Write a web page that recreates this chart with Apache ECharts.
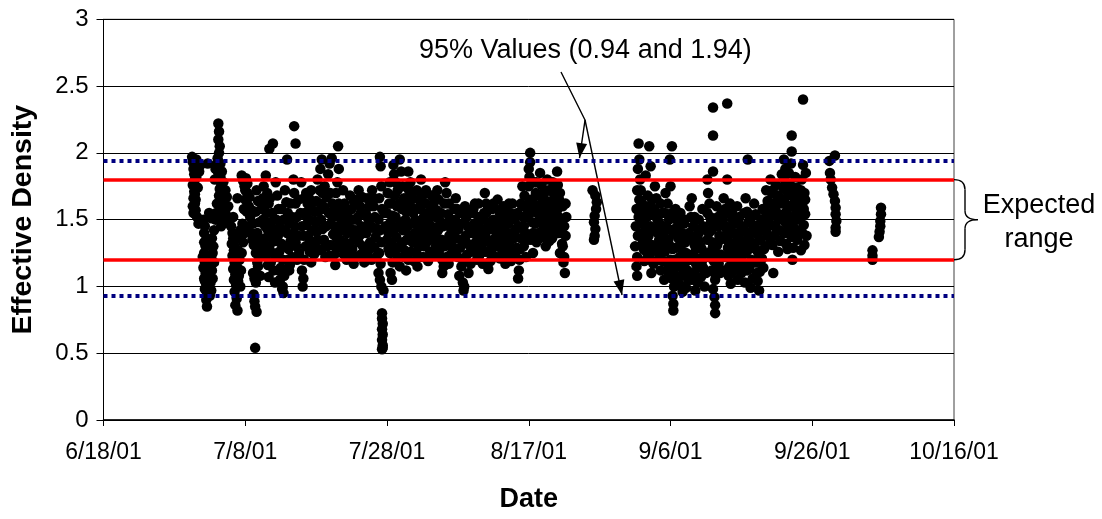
<!DOCTYPE html>
<html><head><meta charset="utf-8">
<script src="https://cdn.jsdelivr.net/npm/echarts@6/dist/echarts.min.js"></script>
<style>html,body{margin:0;padding:0;background:#fff}#c{width:1102px;height:519px}</style>
</head><body><div id="c"></div>
<script>
// x = days since 6/18/01 (fractional), y = effective density
const startDateUTC = Date.UTC(2001, 5, 18);
const xMinDay = 0, xMaxDay = 120, xStepDays = 20;
const yMin = 0, yMax = 3, yStep = 0.5;
const expectedRange = [1.2, 1.8];
const limits95 = [0.93, 1.94];
const annotationText = '95% Values (0.94 and 1.94)';
const braceText = ['Expected', 'range'];

const earlyJuly = [
[12.5,1.97],[12.6,1.93],[12.7,1.88],[12.8,1.84],[12.9,1.80],[12.6,1.76],[12.8,1.71],[12.7,1.66],[12.9,1.62],[12.6,1.60],[13.0,1.57],[13.2,1.52],[13.4,1.47],[13.1,1.95],[13.3,1.90],[13.5,1.86],[13.7,1.91],
[14.1,1.50],[14.3,1.45],[14.2,1.40],[14.5,1.35],[14.4,1.30],[14.2,1.25],[14.0,1.22],[14.3,1.18],[14.1,1.14],[14.4,1.10],[14.2,1.06],[14.5,1.02],[14.3,0.98],[14.6,0.95],[14.5,0.90],[14.6,0.85],[14.8,1.20],[14.9,1.15],[15.0,1.08],[15.1,1.03],[15.2,0.97],[15.0,0.93],[15.3,1.12],[15.4,1.25],[15.5,1.30],[15.3,1.36],[15.6,1.42],[15.2,1.51],[14.7,1.92],[14.9,1.55],
[16.2,2.22],[16.3,2.16],[16.2,2.10],[16.4,2.05],[16.3,2.00],[16.1,1.96],[16.0,1.92],[15.8,1.88],[16.2,1.85],[16.5,1.82],[15.7,1.80],[16.6,1.77],[16.4,1.73],[16.7,1.70],[16.9,1.66],[17.1,1.62],[16.8,1.58],[17.2,1.55],[17.0,1.51],[17.3,1.48],[16.6,1.45],[17.4,1.67],[17.6,1.60],[15.9,1.55],[16.0,1.62],[16.3,1.68],
[18.2,1.40],[18.3,1.36],[18.1,1.32],[18.4,1.27],[18.2,1.23],[18.5,1.18],[18.3,1.13],[18.6,1.09],[18.4,1.05],[18.7,1.01],[18.5,0.96],[18.8,0.91],[18.6,0.86],[18.9,0.82],[19.2,1.20],[19.4,1.12],[19.0,1.04],
[18.9,1.66],[19.5,1.83],[19.7,1.79],[19.9,1.75],[20.1,1.81],[20.3,1.70],[20.0,1.65],[20.5,1.60],[20.2,1.56],[20.7,1.52],[19.6,1.47],[20.4,1.45],[19.3,1.42],[20.8,1.40],[21.0,1.35],[21.2,1.31],[19.1,1.36],[19.0,1.27],
[21.1,1.10],[21.3,1.06],[21.5,1.03],[21.2,0.94],[21.3,0.89],[21.4,0.85],[21.6,0.81],[21.4,0.54],[21.8,1.15],[22.0,1.22],
[21.6,1.72],[21.8,1.64],[21.5,1.56],[22.0,1.48],[21.7,1.40],[22.2,1.32],[21.9,1.25]
];

const midJuly = [
[22.6,1.75],[22.9,1.83],[23.1,1.70],[23.3,1.62],[23.0,1.55],[23.5,1.48],[23.2,1.42],[23.7,1.37],[23.4,1.30],[23.9,1.25],[23.6,1.18],[24.0,1.12],[23.3,1.07],[24.2,1.03],[23.4,2.03],[23.9,2.07],[24.3,1.78],[24.5,1.68],[24.7,1.58],[24.4,1.50],[24.9,1.44],[24.6,1.38],[25.1,1.32],[24.8,1.26],[25.3,1.20],[25.0,1.14],[25.5,1.08],[25.2,0.98],[25.4,0.95],[25.3,1.00],[25.9,1.95],[25.6,1.72],[25.8,1.63],[26.0,1.55],[26.2,1.47],[25.9,1.40],[26.4,1.34],[26.1,1.28],[26.6,1.22],[26.3,1.16],[26.9,2.20],[27.1,2.07],[26.8,1.80],[26.9,1.70],[27.1,1.62],[27.3,1.52],[27.0,1.45],[27.5,1.38],[27.2,1.30],[27.6,1.25],[22.7,1.60],[22.5,1.50],[22.8,1.45],[22.4,1.35],[22.6,1.28],
[27.9,1.78],[28.1,1.00],[28.2,1.06],[28.0,1.12],[28.3,1.20],[28.5,1.30],[28.2,1.38],[28.6,1.46],[28.4,1.55],[28.8,1.62],[28.6,1.70],[29.0,1.66],[29.2,1.58],[29.0,1.50],[29.4,1.42],[29.1,1.34],[29.5,1.27],[29.3,1.18],[29.7,1.24],[29.9,1.33],[30.1,1.41],[29.8,1.49],[30.3,1.56],[30.0,1.64],[30.5,1.72],[30.2,1.80],[30.6,1.88],[30.8,1.95],[30.7,1.50],[30.9,1.43],[31.1,1.35],[30.8,1.28],[31.3,1.22],[31.0,1.60],[31.5,1.67],[31.2,1.75],[31.7,1.84],[31.9,1.92],[32.2,1.96],[31.8,1.55],[32.1,1.47],[32.4,1.39],[32.0,1.31],[32.6,1.24],[32.7,1.16],[32.3,1.62],[32.8,1.70],[33.0,1.78],[33.1,2.05],[33.2,1.88],[33.3,1.52],[33.0,1.45],[33.4,1.35],[32.9,1.29]
];

const lateJuly = [
[33.8,1.72],[34.0,1.62],[34.2,1.55],[33.9,1.48],[34.4,1.40],[34.1,1.33],[34.6,1.26],[34.3,1.20],[34.8,1.68],[35.0,1.58],[35.2,1.50],[34.9,1.43],[35.4,1.36],[35.1,1.28],[35.6,1.22],[35.3,1.17],[35.8,1.65],[36.0,1.72],[36.2,1.60],[35.9,1.52],[36.4,1.45],[36.1,1.38],[36.6,1.30],[36.3,1.24],[36.8,1.18],[37.0,1.55],[37.2,1.66],[37.4,1.47],[37.1,1.40],[37.6,1.33],[37.3,1.26],[37.8,1.20],[37.9,1.72],[38.1,1.60],[38.3,1.52],[38.0,1.44],[38.4,1.37],[38.2,1.29],[38.5,1.22],
[39.0,1.97],[39.1,1.90],[39.2,1.75],[38.9,1.66],[39.3,1.58],[38.8,1.50],[39.0,1.42],[39.2,1.33],[38.9,1.25],[39.1,1.17],[38.8,1.10],[39.0,1.05],[39.2,1.00],[39.5,0.97],[39.3,0.80],[39.3,0.76],[39.4,0.72],[39.3,0.68],[39.4,0.64],[39.3,0.60],[39.4,0.56],[39.3,0.53],[39.4,0.54],
[40.1,1.70],[40.3,1.62],[40.0,1.55],[40.5,1.48],[40.2,1.40],[40.6,1.32],[40.4,1.25],[40.8,1.18],[40.5,1.10],[40.9,1.91],[41.0,1.84],[41.2,1.78],[41.1,1.68],[41.4,1.60],[41.2,1.52],[41.6,1.45],[41.3,1.37],[41.7,1.30],[41.5,1.22],[41.8,1.15],[41.8,1.95],[42.0,1.86],[42.2,1.75],[42.4,1.66],[42.1,1.58],[42.6,1.50],[42.3,1.42],[42.8,1.35],[42.5,1.27],[43.0,1.20],[42.7,1.12],[43.1,1.72],[42.9,1.63],[40.7,1.05]
];

const julyMore = [
[12.7,1.55],[12.9,1.69],[13.1,1.82],[13.3,1.74],[13.0,1.65],[14.2,1.33],[14.4,1.20],[14.6,1.12],[14.3,1.04],[14.8,1.00],[15.0,1.17],[15.2,1.22],[15.4,1.06],[15.6,1.18],[15.8,1.50],[16.5,1.92],[16.7,1.86],[16.9,1.78],[17.2,1.72],[17.0,1.58],[17.5,1.52],[18.0,1.45],[18.3,1.52],[18.5,1.30],[18.7,1.21],[18.9,1.14],[19.1,1.08],[19.3,1.00],[19.5,1.25],[19.7,1.33],[19.9,1.40],[19.8,1.58],[20.0,1.72],[20.3,1.77],[20.6,1.67],[20.9,1.57],[21.1,1.47],[21.3,1.38],[21.5,1.25],[21.7,1.18],[22.1,1.08],[22.3,1.58],[22.5,1.66],[22.8,1.36],[23.0,1.24],[23.2,1.16],[23.5,1.66],[23.8,1.55],[24.1,1.43],[24.3,1.34],[24.5,1.22],[24.7,1.12],[24.9,1.05],[25.1,1.58],[25.4,1.50],[25.6,1.42],[25.8,1.30],[26.0,1.20],[26.2,1.12],[26.4,1.62],[26.6,1.52],[26.9,1.40],[27.1,1.33],[27.3,1.20],[27.5,1.65],[27.8,1.55],[28.0,1.45],[28.3,1.66],[28.7,1.52],[28.9,1.38],[29.1,1.26],[29.3,1.72],[29.6,1.63],[29.8,1.56],[30.0,1.48],[30.2,1.35],[30.4,1.27],[30.6,1.62],[30.9,1.70],[31.2,1.58],[31.4,1.45],[31.6,1.30],[31.8,1.23],[32.0,1.70],[32.3,1.52],[32.5,1.56],[32.7,1.44],[32.9,1.36],[33.2,1.62],[33.5,1.58],[33.6,1.42],[33.7,1.30],[33.9,1.24],[34.2,1.45],[34.5,1.52],[34.7,1.32],[35.0,1.25],[35.3,1.64],[35.5,1.42],[35.7,1.50],[36.0,1.33],[36.3,1.55],[36.5,1.67],[36.7,1.40],[36.9,1.25],[37.2,1.52],[37.5,1.60],[37.7,1.45],[38.0,1.30],[38.2,1.66],[38.6,1.43],[39.6,1.55],[39.8,1.45],[40.0,1.35],[40.2,1.28],[40.4,1.78],[40.6,1.62],[40.8,1.53],[41.0,1.42],[41.3,1.28],[41.5,1.72],[41.7,1.62],[42.0,1.48],[42.2,1.33],[42.4,1.22],[42.7,1.56],[42.9,1.45]
];

const earlyAug = [
[43.0,1.86],[43.3,1.78],[43.5,1.70],[43.2,1.62],[43.7,1.55],[43.4,1.47],[43.9,1.40],[43.6,1.33],[44.1,1.26],[43.8,1.19],[44.3,1.15],[44.0,1.50],[44.5,1.65],[44.2,1.72],[44.7,1.58],[44.4,1.45],[44.9,1.37],[44.6,1.30],[45.1,1.22],[44.8,1.80],[45.2,1.52],[45.0,1.68],
[45.5,1.62],[45.7,1.55],[45.4,1.47],[45.9,1.40],[45.6,1.33],[46.1,1.26],[45.8,1.19],[46.3,1.68],[46.5,1.60],[46.2,1.52],[46.7,1.44],[46.4,1.37],[46.9,1.30],[46.6,1.23],[47.1,1.72],[47.3,1.65],[47.0,1.57],[47.5,1.49],[47.2,1.42],[47.7,1.35],[47.4,1.28],[47.8,1.20],[47.8,1.10],[48.0,1.15],[48.2,1.78],[48.4,1.70],[48.1,1.62],[48.6,1.54],[48.3,1.46],[48.8,1.38],[48.5,1.31],[49.0,1.24],[48.7,1.17],[49.2,1.48],[49.4,1.40],[49.1,1.33],
[49.7,1.66],[49.9,1.58],[49.6,1.50],[50.1,1.43],[49.8,1.36],[50.3,1.29],[50.0,1.22],[50.5,1.15],[50.2,1.08],[50.7,1.03],[50.8,0.97],[50.9,1.00],[51.0,1.60],[51.2,1.52],[51.4,1.45],[51.1,1.38],[51.6,1.31],[51.3,1.24],[51.8,1.17],[51.5,1.10]
];

const midAug = [
[52.1,1.55],[52.3,1.47],[52.0,1.40],[52.5,1.33],[52.2,1.26],[52.7,1.20],[52.4,1.62],[52.9,1.52],[53.1,1.44],[52.8,1.37],[53.3,1.30],[53.0,1.23],[53.5,1.17],[53.8,1.70],[54.0,1.62],[53.7,1.55],[54.2,1.48],[53.9,1.40],[54.4,1.33],[54.1,1.26],[54.6,1.19],[54.3,1.13],[54.8,1.58],[55.0,1.50],[54.7,1.43],[55.2,1.36],[54.9,1.29],[55.4,1.22],[55.6,1.65],[55.8,1.57],[55.5,1.49],[56.0,1.42],[55.7,1.35],[56.2,1.28],[55.9,1.21],[56.4,1.60],[56.6,1.52],[56.3,1.45],[56.8,1.38],[56.5,1.31],[57.0,1.24],[56.7,1.17],[57.2,1.62],[57.4,1.55],[57.1,1.47],[57.6,1.40],[57.3,1.33],[57.8,1.26],[57.5,1.19],[58.0,1.50],[58.2,1.43],[57.9,1.36],[58.3,1.29],
[58.5,1.06],[58.6,1.12],[58.7,1.20],[58.8,1.28],[58.9,1.36],[59.0,1.44],[59.2,1.52],[59.1,1.60],[59.4,1.68],[59.3,1.30],[59.6,1.22],[59.5,1.40],[59.8,1.58],[60.0,1.75],[60.1,1.82],[60.0,1.88],[60.2,1.93],[60.2,2.00],[60.4,1.65],[60.5,1.48],[60.3,1.35],[60.6,1.25],
[60.8,1.78],[61.0,1.70],[60.7,1.62],[61.2,1.55],[60.9,1.47],[61.4,1.40],[61.1,1.33],[61.6,1.85],[61.8,1.76],[61.5,1.68],[62.0,1.60],[61.7,1.52],[62.2,1.45],[61.9,1.37],[62.4,1.30],[62.6,1.80],[62.8,1.72],[62.5,1.64],[63.0,1.57],[62.7,1.49],[63.2,1.42],[62.9,1.34],[63.4,1.78],[63.6,1.68],[63.3,1.60],[63.8,1.52],[63.5,1.45],[64.0,1.86],[64.1,1.76],[64.3,1.65],[64.0,1.57],[64.5,1.48],[64.2,1.40],[64.7,1.32],[64.4,1.25],[64.9,1.18],[65.1,1.10],[65.0,1.45],[65.2,1.38],[64.8,1.60],[65.3,1.52]
];

const augMore = [
[43.2,1.38],[43.4,1.26],[43.6,1.66],[43.9,1.58],[44.1,1.48],[44.3,1.36],[44.6,1.22],[44.8,1.62],[45.0,1.42],[45.3,1.30],[45.5,1.72],[45.8,1.50],[46.0,1.35],[46.2,1.45],[46.4,1.60],[46.7,1.65],[46.9,1.52],[47.1,1.36],[47.3,1.25],[47.6,1.55],[47.9,1.45],[48.1,1.30],[48.4,1.22],[48.7,1.62],[48.9,1.50],[49.1,1.42],[49.3,1.26],[49.5,1.58],[49.8,1.28],[50.0,1.45],[50.3,1.55],[50.5,1.35],[50.7,1.20],[50.9,1.48],[51.2,1.33],[51.5,1.55],[51.7,1.42],[51.9,1.28],[52.2,1.58],[52.4,1.40],[52.6,1.28],[52.9,1.62],[53.1,1.34],[53.3,1.50],[53.5,1.42],[53.7,1.26],[54.0,1.55],[54.2,1.35],[54.5,1.45],[54.7,1.25],[55.0,1.62],[55.2,1.45],[55.4,1.30],[55.6,1.40],[55.9,1.55],[56.1,1.35],[56.3,1.25],[56.6,1.45],[56.8,1.58],[57.0,1.40],[57.3,1.52],[57.5,1.28],[57.7,1.62],[58.0,1.40],[58.2,1.22],[58.4,1.55],[58.7,1.45],[58.9,1.62],[59.1,1.75],[59.3,1.45],[59.6,1.52],[59.8,1.35],[60.0,1.62],[60.2,1.55],[60.4,1.78],[60.6,1.40],[60.9,1.58],[61.1,1.78],[61.3,1.48],[61.5,1.36],[61.8,1.62],[62.0,1.42],[62.2,1.70],[62.4,1.55],[62.7,1.38],[62.9,1.62],[63.1,1.50],[63.3,1.36],[63.5,1.72],[63.8,1.62],[64.0,1.42],[64.2,1.52],[64.4,1.70],[64.6,1.40],[64.8,1.30],[65.0,1.22],[65.2,1.62]
];

const lateAug = [
[69.0,1.72],[69.4,1.68],[69.6,1.63],[69.5,1.58],[69.3,1.53],[69.2,1.48],[69.4,1.43],[69.3,1.38],[69.2,1.35],
[75.5,2.07],[77.0,2.05],[75.6,1.95],[75.4,1.88],[75.7,1.80],[75.3,1.72],[75.6,1.65],[75.2,1.58],[75.5,1.52],[75.1,1.45],[75.4,1.38],[75.0,1.30],[75.3,1.22],[75.2,1.15],[75.3,1.08],[76.0,1.62],[76.2,1.55],[75.9,1.47],[76.4,1.40],[76.1,1.33],[76.6,1.26],[76.3,1.19],[76.8,1.68],[77.0,1.60],[76.7,1.52],[77.2,1.45],[76.9,1.38],[77.4,1.31],[77.1,1.24],[77.6,1.17],[77.3,1.10],[77.8,1.75],[78.0,1.66],[77.7,1.58],[78.2,1.50],[77.9,1.42],[78.4,1.35],[78.1,1.28],[78.3,1.20],[76.5,1.83],[77.2,1.90]
];

const earlySept = [
[78.6,1.62],[78.8,1.55],[78.5,1.47],[79.0,1.40],[78.7,1.33],[79.2,1.26],[78.9,1.19],[79.4,1.12],[79.1,1.05],[79.3,1.70],[79.6,1.62],[79.9,1.95],[80.2,2.05],[80.0,1.75],[79.8,1.50],[80.1,1.42],[79.7,1.35],[80.3,1.28],[80.0,1.20],[80.4,1.13],[80.2,1.06],[80.5,1.00],[80.3,0.93],[80.4,0.87],[80.4,0.82],[80.7,1.58],[80.9,1.50],[80.6,1.43],[81.1,1.36],[80.8,1.29],[81.3,1.22],[81.0,1.15],[81.5,1.08],[81.2,1.02],[81.7,0.96],[81.4,1.55],[81.9,1.47],[81.6,1.40],[82.1,1.33],[81.8,1.26],[82.3,1.19],[82.0,1.12],[82.5,1.05],[82.2,0.99],[82.7,1.60],[83.0,1.66],[82.9,1.52],[83.2,1.45],[82.8,1.38],[83.4,1.31],[83.1,1.24],[83.6,1.17],[83.3,1.10],[83.8,1.03],[83.5,0.97],[84.0,1.50],[84.2,1.42],[83.9,1.35],[84.4,1.28],[84.1,1.21],[84.6,1.14],[84.3,1.07],[84.8,1.00],[84.5,1.58],
[86.0,2.34],[88.0,2.37],[86.0,2.13],[86.0,1.86],[85.2,1.80],[85.3,1.70],[85.5,1.62],[85.2,1.55],[85.7,1.48],[85.4,1.40],[85.9,1.33],[85.6,1.26],[86.1,1.19],[85.8,1.12],[86.3,1.05],[86.0,0.98],[86.2,0.92],[86.3,0.86],[86.3,0.80],[86.5,1.60],[86.7,1.52],[86.4,1.45],[86.9,1.38],[86.6,1.31],[87.1,1.24],[86.8,1.17],[87.0,1.10]
];

const midSept = [
[87.5,1.66],[87.7,1.58],[87.4,1.50],[87.9,1.43],[87.6,1.36],[88.1,1.29],[87.8,1.22],[88.3,1.15],[88.0,1.80],[88.2,1.08],[88.5,1.02],[88.4,1.62],[88.7,1.55],[88.9,1.47],[88.6,1.40],[89.1,1.33],[88.8,1.26],[89.3,1.19],[89.0,1.12],[89.5,1.05],[89.4,1.60],[89.7,1.52],[89.9,1.45],[89.6,1.38],[90.1,1.31],[89.8,1.24],[90.3,1.17],[90.0,1.10],[90.5,1.03],[90.9,1.95],[90.6,1.66],[90.8,1.56],[91.0,1.48],[90.7,1.41],[91.2,1.34],[90.9,1.27],[91.4,1.20],[91.1,1.13],[91.6,1.06],[91.3,0.99],[91.8,1.62],[92.0,1.54],[91.7,1.46],[92.2,1.39],[91.9,1.32],[92.4,1.25],[92.1,1.18],[92.6,1.11],[92.3,1.04],[92.8,1.50],[93.0,1.42],[92.7,1.35],[93.2,1.28],[92.9,1.21],[93.1,1.14],[92.5,0.97],
[93.5,1.72],[93.7,1.64],[93.4,1.56],[93.9,1.48],[93.6,1.40],[94.1,1.80],[94.3,1.70],[94.0,1.62],[94.5,1.54],[94.2,1.46],[94.5,1.10],[94.7,1.38],[94.4,1.31],[94.9,1.76],[95.1,1.66],[94.8,1.58],[95.3,1.50],[95.0,1.42],[95.5,1.34],[95.2,1.26],[95.7,1.84],[95.9,1.74],[95.6,1.64]
];

const septMore = [
[75.8,1.72],[76.0,1.40],[76.2,1.28],[76.4,1.60],[76.6,1.45],[76.8,1.33],[77.0,1.20],[77.2,1.55],[77.4,1.65],[77.6,1.42],[77.8,1.30],[78.0,1.52],[78.2,1.40],[78.4,1.25],[78.6,1.12],[78.8,1.42],[79.0,1.30],[79.2,1.55],[79.4,1.45],[79.6,1.18],[79.8,1.10],[80.0,1.30],[80.2,1.55],[80.4,1.40],[80.6,1.20],[80.8,1.08],[81.0,1.45],[81.2,1.30],[81.4,1.15],[81.6,1.00],[81.8,1.35],[82.0,1.50],[82.2,1.25],[82.4,1.12],[82.6,1.40],[82.8,1.20],[83.0,1.05],[83.2,1.35],[83.4,1.52],[83.6,1.28],[83.8,1.14],[84.0,1.40],[84.2,1.30],[84.4,1.18],[84.6,1.45],[84.8,1.22],[85.0,1.10],[85.2,1.35],[85.4,1.22],[85.6,1.52],[85.8,1.42],[86.0,1.30],[86.2,1.10],[86.4,1.25],[86.6,1.15],[86.8,1.45],[87.0,1.35],[87.2,1.55],[87.4,1.22],[87.6,1.12],[87.8,1.45],[88.0,1.35],[88.2,1.55],[88.4,1.22],[88.6,1.10],[88.8,1.50],[89.0,1.40],[89.2,1.28],[89.4,1.15],[89.6,1.48],[89.8,1.35],[90.0,1.22],[90.2,1.42],[90.4,1.55],[90.6,1.25],[90.8,1.12],[91.0,1.38],[91.2,1.50],[91.4,1.30],[91.6,1.42],[91.8,1.18],[92.0,1.28],[92.2,1.10],[92.4,1.45],[92.6,1.35],[92.8,1.20],[93.0,1.58],[93.2,1.45],[93.4,1.30],[93.6,1.52],[93.8,1.62],[94.0,1.36],[94.2,1.55],[94.4,1.72],[94.6,1.62],[94.8,1.45],[95.0,1.55],[95.2,1.68],[95.4,1.42],[95.6,1.52],[95.8,1.62],[96.0,1.40],[96.2,1.55],[96.4,1.72],[96.6,1.45],[96.8,1.60],[97.0,1.70],[97.2,1.50],[97.4,1.62],[97.6,1.40],[97.8,1.55],[98.0,1.68],[98.2,1.50],[98.4,1.72],[98.6,1.40],[98.8,1.58],[99.0,1.65]
];

const lateSeptOct = [
[96.0,1.95],[96.2,1.88],[96.1,1.80],[96.3,1.72],[96.0,1.64],[96.4,1.56],[96.2,1.48],[96.5,1.40],[96.3,1.32],[96.5,1.28],[96.7,1.85],[96.9,1.76],[96.6,1.68],[97.1,2.13],[97.1,2.01],[97.0,1.92],[97.2,1.60],[96.9,1.52],[97.4,1.44],[97.1,1.37],[97.3,1.29],[97.2,1.20],[97.6,1.82],[97.8,1.74],[97.5,1.66],[98.0,1.58],[97.7,1.50],[98.2,1.42],[97.9,1.35],[98.4,1.27],[98.7,2.40],[98.7,1.91],[98.5,1.80],[98.9,1.70],[98.6,1.62],[99.0,1.54],[98.8,1.46],[99.2,1.38],[98.9,1.31],[99.1,1.85],
[102.4,1.94],[103.2,1.98],[102.5,1.85],[102.6,1.80],[102.8,1.74],[103.0,1.69],[103.2,1.64],[103.3,1.59],[103.3,1.54],[103.4,1.49],[103.3,1.44],[103.3,1.41],
[109.7,1.59],[109.7,1.54],[109.6,1.49],[109.6,1.45],[109.5,1.41],[109.4,1.37],[108.5,1.27],[108.5,1.23],[108.5,1.20]
];

// annotation anchors in data coordinates [day, value]
const noteStart = [64.55, 2.605], noteJoint = [67.94, 2.246];
const noteTipUpper = [67.16, 1.961], noteTipLower = [73.16, 0.936];

const readings = [].concat(earlyJuly, midJuly, lateJuly, julyMore, earlyAug, midAug, augMore, lateAug, earlySept, midSept, septMore, lateSeptOct);
const FONT = '"Liberation Sans", Arial, sans-serif';

function dayLabel(v) {
  const d = new Date(startDateUTC + Math.round(v) * 86400000);
  return (d.getUTCMonth() + 1) + '/' + d.getUTCDate() + '/' + String(d.getUTCFullYear()).slice(2);
}

const chart = echarts.init(document.getElementById('c'), null, {renderer: 'canvas'});
const option = {
  animation: false,
  backgroundColor: '#fff',
  grid: {left: 103.5, right: 148, top: 19.3, bottom: 99, show: true, borderColor: '#404040', borderWidth: 1, containLabel: false},
  xAxis: {
    type: 'value', min: xMinDay, max: xMaxDay, interval: xStepDays,
    name: 'Date', nameLocation: 'middle', nameGap: 66,
    nameTextStyle: {fontFamily: FONT, fontSize: 27, fontWeight: 'bold', color: '#000'},
    axisLine: {show: true, onZero: false, lineStyle: {color: '#000', width: 1.5}},
    axisTick: {show: true, length: 6, lineStyle: {color: '#000', width: 1}},
    splitLine: {show: false},
    axisLabel: {formatter: dayLabel, fontFamily: FONT, fontSize: 23, color: '#000', margin: 21, showMinLabel: true, showMaxLabel: true}
  },
  yAxis: {
    type: 'value', min: yMin, max: yMax, interval: yStep,
    name: 'Effective Density', nameLocation: 'middle', nameGap: 66,
    nameTextStyle: {fontFamily: FONT, fontSize: 28.5, fontWeight: 'bold', color: '#000'},
    axisLine: {show: true, onZero: false, lineStyle: {color: '#000', width: 1}},
    axisTick: {show: true, length: 7, lineStyle: {color: '#000', width: 1}},
    splitLine: {show: true, lineStyle: {color: '#000', width: 1}},
    axisLabel: {fontFamily: FONT, fontSize: 24, color: '#000', margin: 15}
  },
  series: [{
    type: 'scatter', data: readings, symbol: 'circle', symbolSize: 10.5, large: false,
    itemStyle: {color: '#000', opacity: 1}, z: 2,
    markLine: {
      silent: true, symbol: 'none', label: {show: false}, z: 5,
      data: [
        {yAxis: limits95[1], lineStyle: {color: '#000080', width: 4, type: [4, 4]}},
        {yAxis: limits95[0], lineStyle: {color: '#000080', width: 4, type: [4, 4]}},
        {yAxis: expectedRange[1], lineStyle: {color: '#FF0000', width: 3.5, type: 'solid'}},
        {yAxis: expectedRange[0], lineStyle: {color: '#FF0000', width: 3.5, type: 'solid'}}
      ]
    }
  }]
};
chart.setOption(option);

function px(p) { return chart.convertToPixel({gridIndex: 0}, p); }
function arrowHead(from, tip, len, half) {
  const dx = tip[0] - from[0], dy = tip[1] - from[1];
  const L = Math.sqrt(dx * dx + dy * dy), ux = dx / L, uy = dy / L;
  const bx = tip[0] - ux * len, by = tip[1] - uy * len;
  return [[tip[0], tip[1]], [bx - uy * half, by + ux * half], [bx + uy * half, by - ux * half]];
}
const pS = px(noteStart), pJ = px(noteJoint), pU = px(noteTipUpper), pL = px(noteTipLower);
const xr = px([xMaxDay, expectedRange[1]])[0];
const yTop = px([xMaxDay, expectedRange[1]])[1], yBot = px([xMaxDay, expectedRange[0]])[1];
const yMid = (yTop + yBot) / 2;
const bw = 11, bt = 24;
const lineStyle = {stroke: '#000', lineWidth: 1.4, fill: null};
const g = [
  {type: 'text', x: pS[0] - 142, y: pS[1] - 21.5, silent: true,
   style: {text: annotationText, font: '27px ' + FONT, fill: '#000', align: 'left', verticalAlign: 'middle'}},
  {type: 'polyline', silent: true, shape: {points: [pS, pJ, pU]}, style: lineStyle},
  {type: 'line', silent: true, shape: {x1: pJ[0], y1: pJ[1], x2: pL[0], y2: pL[1]}, style: lineStyle},
  {type: 'polygon', silent: true, shape: {points: arrowHead(pJ, pU, 15, 5.5)}, style: {fill: '#000'}},
  {type: 'polygon', silent: true, shape: {points: arrowHead(pJ, pL, 15, 5.5)}, style: {fill: '#000'}},
  {type: 'bezierCurve', silent: true, shape: {x1: xr, y1: yTop, cpx1: xr + bw, cpy1: yTop, x2: xr + bw, y2: yTop + 10}, style: lineStyle},
  {type: 'line', silent: true, shape: {x1: xr + bw, y1: yTop + 10, x2: xr + bw, y2: yMid - 9}, style: lineStyle},
  {type: 'bezierCurve', silent: true, shape: {x1: xr + bw, y1: yMid - 9, cpx1: xr + bw, cpy1: yMid, x2: xr + bt, y2: yMid}, style: lineStyle},
  {type: 'bezierCurve', silent: true, shape: {x1: xr + bt, y1: yMid, cpx1: xr + bw, cpy1: yMid, x2: xr + bw, y2: yMid + 9}, style: lineStyle},
  {type: 'line', silent: true, shape: {x1: xr + bw, y1: yMid + 9, x2: xr + bw, y2: yBot - 10}, style: lineStyle},
  {type: 'bezierCurve', silent: true, shape: {x1: xr + bw, y1: yBot - 10, cpx1: xr + bw, cpy1: yBot, x2: xr, y2: yBot}, style: lineStyle},
  {type: 'text', x: xr + 85, y: yMid - 14, silent: true,
   style: {text: braceText[0], font: '27px ' + FONT, fill: '#000', align: 'center', verticalAlign: 'middle'}},
  {type: 'text', x: xr + 85, y: yMid + 19.5, silent: true,
   style: {text: braceText[1], font: '27px ' + FONT, fill: '#000', align: 'center', verticalAlign: 'middle'}}
];
chart.setOption({graphic: g});
</script>
</body></html>
